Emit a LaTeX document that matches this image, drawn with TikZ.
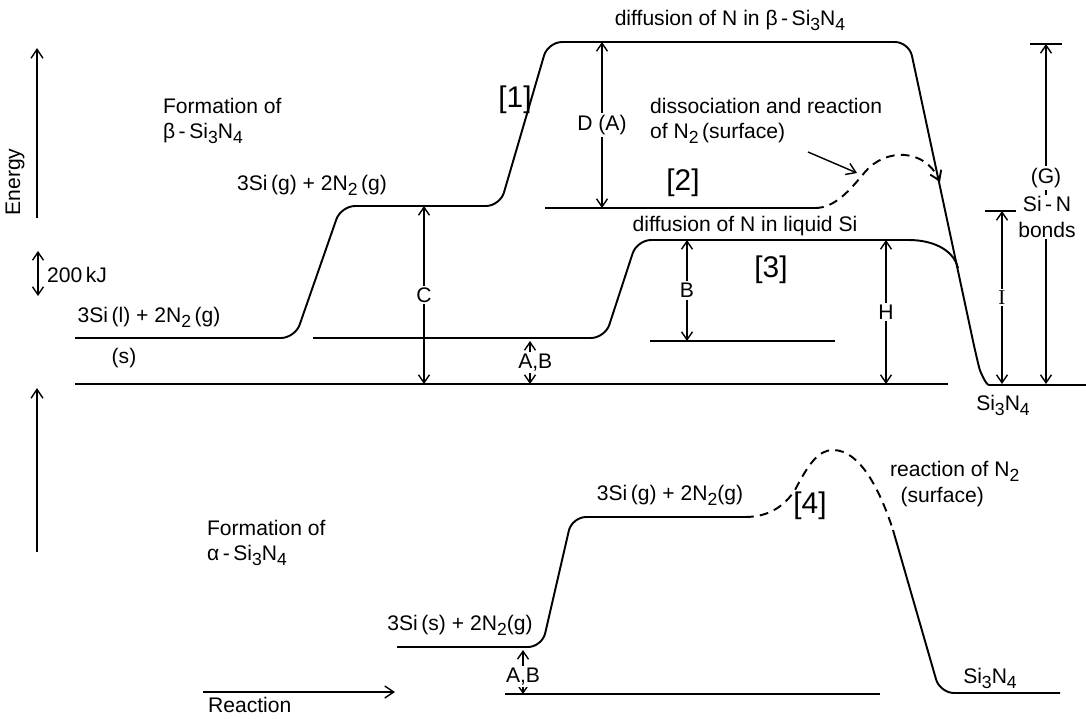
\documentclass[tikz,border=0pt]{standalone}
\usepackage{fontspec}
\setmainfont{Liberation Sans}
\newfontfamily\serifletter{Liberation Serif}
\usetikzlibrary{arrows.meta,positioning}
\newcommand{\lo}[1]{\raisebox{-0.45ex}{\fontsize{10}{10}\selectfont#1}}
\newcommand{\SiN}{Si\lo{3}N\lo{4}}
\newcommand{\Ntwo}{N\lo{2}}

\begin{document}
\begin{tikzpicture}[
  x=0.02cm,y=-0.02cm,
  lbl/.style={font=\fontsize{12}{14.5}\selectfont,inner sep=1pt},
  brk/.style={font=\fontsize{17}{19}\selectfont,inner sep=1pt},
  curve/.style={line width=1.1pt,line join=round},
  dashcurve/.style={curve,dash pattern=on 5pt off 3.5pt},
  dim/.style={line width=0.8pt,{Straight Barb[length=1.6mm,width=2.2mm]}-{Straight Barb[length=1.6mm,width=2.2mm]}},
  axisarrow/.style={line width=0.8pt,-{Straight Barb[length=1.8mm,width=2.4mm]}},
  cut/.style={lbl,fill=white}
]
  \useasboundingbox (0,0) rectangle (1086,718);

  % axes
  \coordinate (e0) at (37,218);
  \coordinate (e1) at (37,48);
  \draw[axisarrow] (e0) -- (e1);
  \node[lbl,rotate=90] (energy) at (15,182) {Energy};
  \coordinate (k0) at (38,251);
  \coordinate (k1) at (38,296);
  \draw[dim] (k0) -- (k1);
  \node[lbl,anchor=west] (kj) at (45,275) {200\,kJ};
  \coordinate (e2) at (37,552);
  \coordinate (e3) at (37,388);
  \draw[axisarrow] (e2) -- (e3);
  \coordinate (r0) at (203,692);
  \coordinate (r1) at (395,692);
  \draw[axisarrow] (r0) -- (r1);
  \node[lbl,anchor=west] (reac) at (206,705) {Reaction};

  % beta-Si3N4 levels
  \node[lbl,anchor=west,align=left] (fbeta) at (161,121) {Formation of\\β\,-\,\SiN};
  \draw[curve,rounded corners=8pt] (75,338) -- (295,338) -- (341,206) -- (500,206)
    -- (548,42) -- (909,42) -- (976,355) .. controls (980,371) and (986,385) .. (1003,385) -- (1086,385);
  \draw[curve,rounded corners=8pt] (313,338) -- (605,338) -- (637,240) -- (895,240)
    .. controls (930,240) and (953,248) .. (958,268);
  \draw[curve] (75,384) -- (948,384);
  \draw[curve] (650,341) -- (835,341);
  \draw[curve] (545,208) -- (815,208);
  \draw[dashcurve,-{Straight Barb[length=1.8mm,width=2.4mm]}] (815,208) .. controls (835,208) and (850,190) .. (865,172)
    .. controls (885,148) and (925,148) .. (940,182);
  \draw[curve] (1030,44) -- (1062,44);
  \draw[curve] (985,211) -- (1016,211);

  \node[lbl] (liq) at (149,317) {3Si\,(l)\;+\;2\Ntwo\,(g)};
  \node[lbl] (sol) at (124,358) {(s)};
  \node[lbl] (gas) at (312,185) {3Si\,(g)\;+\;2\Ntwo\,(g)};
  \node[lbl] (dbeta) at (730,20) {diffusion of N in β\,-\,\SiN};
  \node[lbl] (dliq) at (745,226) {diffusion of N in liquid Si};
  \node[lbl,anchor=west,align=left] (diss) at (648,121) {dissociation and reaction\\of \Ntwo\,(surface)};
  \node[lbl] (si1) at (1003,405) {\SiN};
  \node[brk] (b1) at (515,100) {[1]};
  \node[brk] (b2) at (683,183) {[2]};
  \node[brk] (b3) at (771,270) {[3]};
  \coordinate (p0) at (808,152);
  \coordinate (p1) at (857,173);
  \draw[line width=0.8pt,-{Straight Barb[length=1.8mm,width=2.4mm]}] (p0) -- (p1);

  % energy differences
  \coordinate (c0) at (424,206);
  \coordinate (c1) at (424,384);
  \draw[dim] (c0) -- (c1) node[cut,midway] {C};
  \coordinate (a0) at (530,341);
  \coordinate (a1) at (530,384);
  \draw[dim] (a0) -- (a1) node[cut,midway,xshift=3pt] {A,B};
  \coordinate (d0) at (602,42);
  \coordinate (d1) at (602,208);
  \draw[dim] (d0) -- (d1) node[cut,midway] {D (A)};
  \coordinate (bb0) at (687,240);
  \coordinate (bb1) at (687,341);
  \draw[dim] (bb0) -- (bb1) node[cut,midway] {B};
  \coordinate (h0) at (886,240);
  \coordinate (h1) at (886,384);
  \draw[dim] (h0) -- (h1) node[cut,midway] {H};
  \coordinate (i0) at (1002,211);
  \coordinate (i1) at (1002,384);
  \draw[dim] (i0) -- (i1) node[cut,midway] {\serifletter I};
  \coordinate (g0) at (1046,44);
  \coordinate (g1) at (1046,384);
  \draw[dim] (g0) -- (g1);
  \node[cut] (glab) at (1046,178) {(G)};
  \node[cut,align=center] (bond) at (1047,217) {Si\,-\,N\\bonds};

  % alpha-Si3N4 levels
  \node[lbl,anchor=west,align=left] (falpha) at (205,543) {Formation of\\α\,-\,\SiN};
  \draw[curve,rounded corners=8pt] (397,647) -- (542,647) -- (572,517) -- (745,517);
  \draw[dashcurve] (745,517) .. controls (770,517) and (785,505) .. (795,490)
    .. controls (808,465) and (818,450) .. (833,450) .. controls (860,450) and (880,490) .. (893,530);
  \draw[curve,rounded corners=8pt] (893,530) -- (940,693) -- (1060,693);
  \draw[curve] (505,694) -- (880,694);
  \node[lbl] (sol2) at (460,625) {3Si\,(s)\;+\;2\Ntwo(g)};
  \node[lbl] (gas2) at (670,495) {3Si\,(g)\;+\;2\Ntwo(g)};
  \node[brk] (b4) at (810,506) {[4]};
  \node[lbl,anchor=west,align=left] (reacn) at (888,484) {reaction of \Ntwo\\\hspace{0.5em}(surface)};
  \node[lbl] (si2) at (990,678) {\SiN};
  \coordinate (a2) at (523,650);
  \coordinate (a3) at (523,694);
  \draw[dim] (a2) -- (a3) node[cut,pos=0.6] {A,B};
\end{tikzpicture}
\end{document}
